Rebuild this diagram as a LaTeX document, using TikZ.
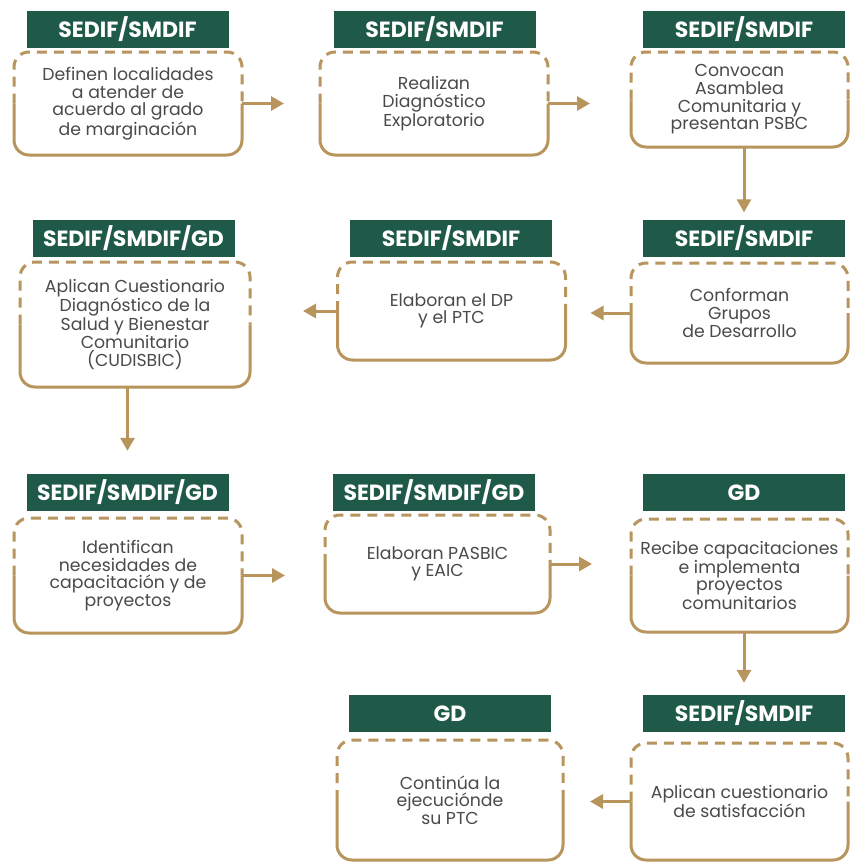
\documentclass[tikz,border=0pt]{standalone}
\usepackage{fontspec}
\setmainfont{Poppins}
\usetikzlibrary{arrows.meta}

\definecolor{verde}{HTML}{1F5A49}
\definecolor{dorado}{HTML}{B8955C}
\definecolor{texto}{HTML}{4A4A4A}

\tikzset{
  cab/.style={fill=verde, text=white, font=\bfseries\fontsize{22}{24}\selectfont,
    minimum width=202pt, minimum height=37pt, inner sep=0pt},
  caja/.style={align=center, text=texto, font=\fontsize{17.3}{17.6}\selectfont,
    minimum width=228pt, inner sep=0pt, outer sep=0pt},
  borde/.style={draw=dorado, line width=3pt, rounded corners=15pt},
  flecha/.style={draw=dorado, line width=3pt, -{Triangle[length=13pt,width=14pt]}}
}

% upper half dashed, lower half solid
\newcommand{\marco}[1]{%
  \draw[borde, dash pattern=on 10pt off 7pt] (#1.west) |- (#1.north) -| (#1.east);
  \draw[borde] (#1.east) |- (#1.south) -| (#1.west);}

\begin{document}
\begin{tikzpicture}[x=1pt,y=-1pt]
\useasboundingbox (0,0) rectangle (850,863);
\fill[white] (0,0) rectangle (850,863);

% row 1
\node[cab] (h1) at (127.5,29) {SEDIF/SMDIF};
\node[caja, minimum height=103pt] (b1) at (128,103.5) {Definen localidades\\a atender de\\acuerdo al grado\\de marginación};
\node[cab] (h2) at (434.5,29) {SEDIF/SMDIF};
\node[caja, minimum height=103pt] (b2) at (434,103.5) {Realizan\\Diagnóstico\\Exploratorio};
\node[cab] (h3) at (744,29) {SEDIF/SMDIF};
\node[caja, minimum width=217pt, minimum height=95pt] (b3) at (739.5,99.5) {Convocan\\Asamblea\\Comunitaria y\\presentan PSBC};

% row 2
\node[cab] (h6) at (133.5,238) {SEDIF/SMDIF/GD};
\node[caja, minimum width=230pt, minimum height=125pt] (b6) at (135,324.5) {Aplican Cuestionario\\Diagnóstico de la\\Salud y Bienestar\\Comunitario\\(CUDISBIC)};
\node[cab] (h5) at (451,238) {SEDIF/SMDIF};
\node[caja, minimum height=98pt] (b5) at (451.5,311) {Elaboran el DP\\y el PTC};
\node[cab] (h4) at (744,238) {SEDIF/SMDIF};
\node[caja, minimum width=217pt, minimum height=100pt] (b4) at (739.5,313) {Conforman\\Grupos\\de Desarrollo};

% row 3
\node[cab] (h7) at (127.5,492.5) {SEDIF/SMDIF/GD};
\node[caja, minimum height=115pt] (b7) at (128,575.5) {Identifican\\necesidades de\\capacitación y de\\proyectos};
\node[cab] (h8) at (434,492.5) {SEDIF/SMDIF/GD};
\node[caja, minimum width=225pt, minimum height=98pt] (b8) at (437.5,564) {Elaboran PASBIC\\y EAIC};
\node[cab] (h9) at (744,492.5) {GD};
\node[caja, minimum width=217pt, minimum height=113pt] (b9) at (739.5,575.5) {Recibe capacitaciones\\e implementa\\proyectos\\comunitarios};

% row 4
\node[cab] (h10) at (450,713.5) {GD};
\node[caja, minimum width=226pt, minimum height=120pt] (b10) at (450,800) {Continúa la\\ejecuciónde\\su PTC};
\node[cab] (h11) at (744,713.5) {SEDIF/SMDIF};
\node[caja, minimum width=217pt, minimum height=117pt] (b11) at (739.5,801.5) {Aplican cuestionario\\de satisfacción};

\marco{b1} \marco{b2} \marco{b3}
\marco{b4} \marco{b5} \marco{b6}
\marco{b7} \marco{b8} \marco{b9}
\marco{b10} \marco{b11}

\draw[flecha, shorten >=36pt] (b1.east) -- (b1.east -| b2.west);
\draw[flecha, shorten >=41pt] (b2.east) -- (b2.east -| b3.west);
\draw[flecha, shorten >=7pt] (b3.south -| h4.north) -- (h4.north);
\draw[flecha, shorten >=25pt] (b4.west) -- (b4.west -| b5.east);
\draw[flecha, shorten >=53pt] (b5.west) -- (b5.west -| b6.east);
\draw[flecha, shorten >=23pt] (b6.south -| h7.north) -- (h7.north);
\draw[flecha, shorten >=40pt] (b7.east) -- (b7.east -| b8.west);
\draw[flecha, shorten >=39pt] (b8.east) -- (b8.east -| b9.west);
\draw[flecha, shorten >=12pt] (b9.south -| h11.north) -- (h11.north);
\draw[flecha, shorten >=27pt] (b11.west) -- (b11.west -| b10.east);
\end{tikzpicture}
\end{document}
